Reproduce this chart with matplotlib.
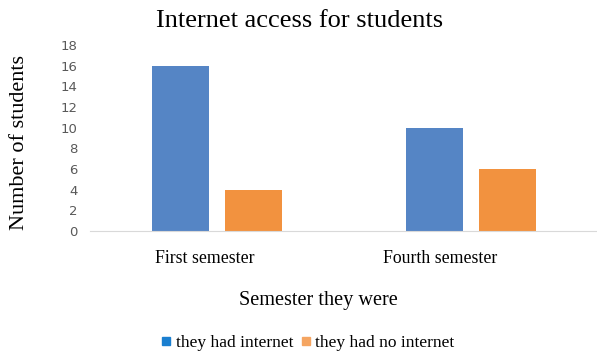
import numpy as np
import matplotlib.pyplot as plt
from matplotlib.lines import Line2D

categories = ['First semester', 'Fourth semester']
had_internet = [16, 10]
no_internet = [4, 6]
series_names = ['they had internet', 'they had no internet']
yticks = [0, 2, 4, 6, 8, 10, 12, 14, 16, 18]

serif = 'Liberation Serif'
fig = plt.figure(figsize=(5.97, 3.55), dpi=100)
ax = fig.add_axes([90/597, 124/355, 508/597, (231-45)/355])

x = np.arange(len(categories))
w = 0.224
ax.bar(x - 0.143, had_internet, w, color='#5585c5', zorder=2)
ax.bar(x + 0.143, no_internet, w, color='#f2923f', zorder=2)

ax.set_xlim(-0.5, 1.5)
ax.set_ylim(0, 18)
ax.set_yticks(yticks)
ax.tick_params(axis='y', length=0, labelsize=9.5, labelcolor='#595959', pad=9)
ax.tick_params(axis='x', length=0, pad=14)
# labels sit a bit left of the group centres in the original
ax.set_xticks(x - np.array([0.05, 0.12]))
ax.set_xticklabels(categories, fontfamily=serif, fontsize=12.8)
for s in ['top', 'right', 'left']:
    ax.spines[s].set_visible(False)
ax.spines['bottom'].set_color('#d9d9d9')

fig.text(300/597, 1 - 21/355, 'Internet access for students', ha='center', va='center',
         fontfamily=serif, fontsize=19)
fig.text(20/597, 1 - 143/355, 'Number of students', ha='center', va='center', rotation=90,
         fontfamily=serif, fontsize=16)
fig.text(318/597, 1 - 300/355, 'Semester they were', ha='center', va='center',
         fontfamily=serif, fontsize=14.6)

handles = [Line2D([], [], marker='s', ls='', color='#1a7fd0', markersize=6),
           Line2D([], [], marker='s', ls='', color='#f5a561', markersize=6)]
fig.legend(handles, series_names, loc='center', bbox_to_anchor=(306/597, 1 - 343/355),
           ncol=2, frameon=False, prop={'family': serif, 'size': 12.5},
           handletextpad=0.05, columnspacing=0.2, handlelength=1)

fig.savefig('out.png', dpi=100)
